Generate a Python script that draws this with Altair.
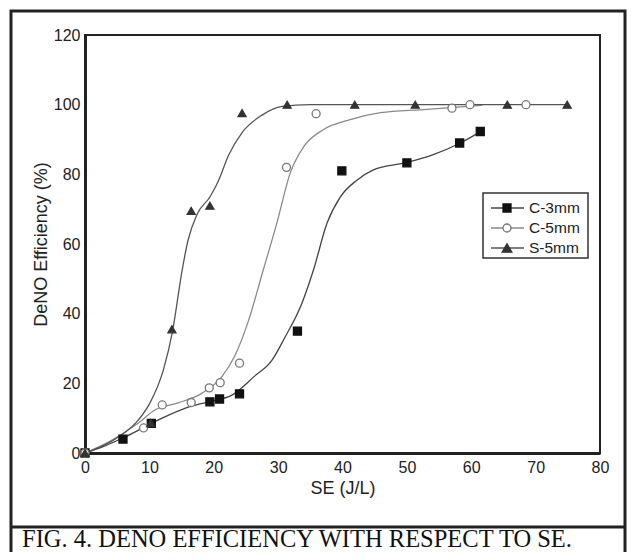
import altair as alt
import pandas as pd

SERIES = ["C-3mm", "C-5mm", "S-5mm"]

# measured points
c3_x = [0, 5.9, 10.3, 19.4, 20.9, 24.0, 33.0, 39.9, 50.0, 58.2, 61.4]
c3_y = [0, 4.0, 8.5, 14.7, 15.5, 17.0, 35.0, 81.0, 83.3, 89.0, 92.3]
c5_x = [0, 9.1, 12.0, 16.5, 19.3, 21.0, 24.0, 31.3, 35.9, 57.0, 59.8, 68.5]
c5_y = [0, 7.2, 13.8, 14.5, 18.7, 20.2, 25.8, 82.0, 97.4, 99.0, 100, 100]
s5_x = [0, 10.2, 13.5, 16.5, 19.4, 24.4, 31.4, 41.9, 51.3, 65.6, 74.9]
s5_y = [0, 8.6, 35.5, 69.5, 71.0, 97.6, 100, 100, 100, 100, 100]

# fitted curves
c3_cx = [0, 3, 6.2, 11.4, 15.6, 19.1, 22.9, 26.3, 29.0, 31.0, 33.7, 35.5, 37.6, 39.7, 42.3, 44.8, 50.0, 54.0, 58.3, 61.4]
c3_cy = [0, 2, 4.6, 9.5, 12.9, 14.7, 16.7, 22.0, 26.5, 33.0, 43.0, 52.6, 66.0, 73.6, 78.4, 81.3, 83.4, 85.6, 89.0, 92.2]
c5_cx = [0, 4, 8.3, 10.9, 14.5, 18.2, 21.3, 23.3, 25.4, 27.7, 29.8, 31.9, 34.0, 37.0, 41.2, 45.9, 52.6, 61.7]
c5_cy = [0, 3.5, 8.6, 12.4, 14.4, 17.2, 22.0, 28.0, 38.0, 52.6, 66.0, 80.5, 88.0, 92.8, 95.7, 97.7, 98.6, 99.8]
s5_cx = [0, 5.2, 8.3, 10.1, 12.2, 13.6, 15.1, 16.0, 17.4, 19.4, 20.7, 22.3, 24.4, 27.5, 30.6, 35.0, 75.0]
s5_cy = [0, 4.6, 9.5, 14.4, 24.0, 35.0, 52.6, 61.0, 68.5, 73.5, 78.0, 85.5, 92.0, 97.0, 99.5, 100, 100]

X_TICKS = [0, 10, 20, 30, 40, 50, 60, 70, 80]
Y_TICKS = [0, 20, 40, 60, 80, 100, 120]
CAPTION = "FIG. 4. DENO EFFICIENCY WITH RESPECT TO SE."


def long(name, xs, ys):
    return pd.DataFrame({"series": name, "x": xs, "y": ys})


pts = pd.concat([long("C-3mm", c3_x, c3_y), long("C-5mm", c5_x, c5_y), long("S-5mm", s5_x, s5_y)])
crv = pd.concat([long("C-3mm", c3_cx, c3_cy), long("C-5mm", c5_cx, c5_cy), long("S-5mm", s5_cx, s5_cy)])

FONT = "Liberation Sans"
xax = alt.Axis(values=X_TICKS, title="SE (J/L)", grid=False, ticks=False, labelFontSize=16,
               labelFont=FONT, labelColor="#222", labelPadding=6, titleFont=FONT, titleFontSize=18,
               titleFontWeight="normal", titleColor="#222", titlePadding=4, domainColor="#222",
               domainWidth=3, labelFlush=False)
yax = alt.Axis(values=Y_TICKS, title="DeNO Efficiency (%)", grid=False, ticks=False, labelFontSize=16,
               labelFont=FONT, labelColor="#222", labelPadding=5, titleFont=FONT, titleFontSize=18,
               titleFontWeight="normal", titleColor="#222", titlePadding=3, domainColor="#222",
               domainWidth=3, labelFlush=False)
xs = alt.Scale(domain=[0, 80], nice=False)
ys = alt.Scale(domain=[0, 120], nice=False)

shape_sc = alt.Scale(domain=SERIES, range=["square", "circle", "triangle-up"])
fill_sc = alt.Scale(domain=SERIES, range=["#111111", "#ffffff", "#333333"])
stroke_sc = alt.Scale(domain=SERIES, range=["#111111", "#777777", "#333333"])
line_sc = alt.Scale(domain=SERIES, range=["#444444", "#8a8a8a", "#555555"])
size_sc = alt.Scale(domain=SERIES, range=[64, 64, 95])

curves = alt.Chart(crv).mark_line(interpolate="monotone", strokeWidth=1.3).encode(
    x=alt.X("x:Q", scale=xs, axis=xax),
    y=alt.Y("y:Q", scale=ys, axis=yax),
    stroke=alt.Stroke("series:N", scale=line_sc, legend=None),
    detail="series:N",
)

points = alt.Chart(pts).mark_point(opacity=1, strokeWidth=1.3).encode(
    x=alt.X("x:Q", scale=xs, axis=xax),
    y=alt.Y("y:Q", scale=ys, axis=yax),
    shape=alt.Shape("series:N", scale=shape_sc, legend=None),
    fill=alt.Fill("series:N", scale=fill_sc, legend=None),
    color=alt.Color("series:N", scale=stroke_sc, legend=None),
    size=alt.Size("series:N", scale=size_sc, legend=None),
)

one = pd.DataFrame({"a": [0]})

# legend
legend_layers = [
    alt.Chart(one).mark_rect(fill="white", stroke="#333", strokeWidth=1.5).encode(
        x=alt.value(398), x2=alt.value(503), y=alt.value(158), y2=alt.value(223))
]
leg_shapes = ["square", "circle", "triangle-up"]
leg_fill = ["#111111", "#ffffff", "#333333"]
leg_stroke = ["#111111", "#777777", "#333333"]
leg_line = ["#444444", "#8a8a8a", "#555555"]
leg_size = [64, 64, 95]
for i, name in enumerate(SERIES):
    yy = 173 + 20 * i
    legend_layers.append(alt.Chart(one).mark_rule(stroke=leg_line[i], strokeWidth=1.3).encode(
        x=alt.value(406), x2=alt.value(439), y=alt.value(yy)))
    legend_layers.append(alt.Chart(one).mark_point(shape=leg_shapes[i], fill=leg_fill[i], stroke=leg_stroke[i],
                                                   opacity=1, strokeWidth=1.3, size=leg_size[i]).encode(
        x=alt.value(422), y=alt.value(yy)))
    legend_layers.append(alt.Chart(one).mark_text(align="left", baseline="middle", font=FONT, fontSize=15.5,
                                                  color="#222").encode(
        x=alt.value(444), y=alt.value(yy), text=alt.value(name)))

frame = alt.Chart(one).mark_rect(fillOpacity=0, stroke="#222", strokeWidth=3).encode(
    x=alt.value(-74), x2=alt.value(540), y=alt.value(-24), y2=alt.value(540))
divider = alt.Chart(one).mark_rule(stroke="#222", strokeWidth=3).encode(
    x=alt.value(-74), x2=alt.value(540), y=alt.value(492))
caption = alt.Chart(one).mark_text(align="left", baseline="alphabetic", font="Liberation Serif",
                                   fontSize=24.5, color="#111").encode(
    x=alt.value(-63), y=alt.value(512), text=alt.value(CAPTION))

chart = alt.layer(frame, divider, caption, curves, points, *legend_layers).properties(
    width=515, height=418,
    padding={"left": 77, "top": 27, "right": 27, "bottom": 99},
    autosize=alt.AutoSizeParams(type="none"),
    background="white",
).configure_view(stroke="#222", strokeWidth=2)

chart.save("out.html", embed_options={"renderer": "svg", "actions": False})
